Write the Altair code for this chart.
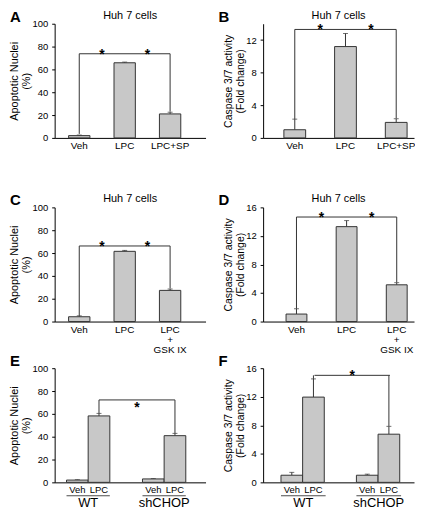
import altair as alt
import pandas as pd

FONT = "Liberation Sans"
BAR_FILL = "#c8c8c8"
EDGE = "#333333"

# ---------------- data ----------------
a_cats = ["Veh", "LPC", "LPC+SP"]
a_vals = [2.0, 65.8, 21.0]
a_err = [0.5, 0.6, 1.5]
a_bracket = 73.7
a_feet = [3.5, 23.0]

b_cats = ["Veh", "LPC", "LPC+SP"]
b_vals = [1.0, 11.2, 1.9]
b_err = [1.3, 1.6, 0.45]
b_bracket = 13.3
b_feet = [2.3, 2.4]

c_cats = ["Veh", "LPC", "LPC + GSK IX"]
c_vals = [4.2, 61.5, 27.3]
c_err = [0.8, 0.8, 1.2]
c_bracket = 66.2
c_feet = [5.0, 29.0]

d_cats = ["Veh", "LPC", "LPC + GSK IX"]
d_vals = [1.05, 13.3, 5.15]
d_err = [0.75, 0.85, 0.3]
d_bracket = 14.65
d_feet = [1.8, 5.5]

ef_groups = ["WT", "WT", "shCHOP", "shCHOP"]
ef_treat = ["Veh", "LPC", "Veh", "LPC"]
e_vals = [2.0, 58.2, 3.0, 40.9]
e_err = [0.3, 2.2, 0.3, 2.0]
e_bracket = 72.2
e_feet = [60.5, 43.0]

f_vals = [1.0, 11.95, 1.0, 6.75]
f_err = [0.4, 2.55, 0.15, 1.1]
f_bracket = 15.0
f_feet = [14.5, 7.9]

pct_ticks = [0, 20, 40, 60, 80, 100]
b_ticks = [0, 4, 8, 12]
fold_ticks = [0, 4, 8, 12, 16]

TITLE_APOP = ["Apoptotic Nuclei", "(%)"]
TITLE_CASP = ["Caspase 3/7 activity", "(Fold change)"]
CELL_TITLE = "Huh 7 cells"

W = 152
H = 115
GSK_EXPR = "datum.label == 'LPC + GSK IX' ? ['LPC', '+', 'GSK IX'] : datum.label"


def y_axis(title, values, tsize):
    return alt.Axis(title=title, values=values, tickSize=3, labelFontSize=9.5,
                    labelPadding=4, titleFontSize=tsize, titlePadding=0,
                    titleLineHeight=tsize + 2)


def letter_layer(letter):
    return alt.Chart(pd.DataFrame({"t": [letter]})).mark_text(
        align="left", baseline="top", fontSize=15, fontWeight="bold", color="black"
    ).encode(text="t:N", x=alt.value(-45), y=alt.value(-14))


def title_layer():
    return alt.Chart(pd.DataFrame({"t": [CELL_TITLE]})).mark_text(
        align="center", baseline="bottom", fontSize=11, color="black"
    ).encode(text="t:N", x=alt.value(W / 2), y=alt.value(-3))


def simple_panel(letter, cats, vals, errs, level, feet, ytitle, tsize, ydom, yvals,
                 pi, po, al, ast_dy, label_expr=None):
    step = W / (len(cats) - pi + 2 * po)
    xs = alt.Scale(domain=cats, paddingInner=pi, paddingOuter=po, align=al)
    ys = alt.Scale(domain=ydom, nice=False, zero=True)
    ax_kw = dict(title=None, labelAngle=0, ticks=False, labelFontSize=10,
                 labelPadding=3, labelLineHeight=10)
    if label_expr:
        ax_kw["labelExpr"] = label_expr
    X = alt.X("cat:N", scale=xs, axis=alt.Axis(**ax_kw))
    Y = alt.Y("v:Q", scale=ys, axis=y_axis(ytitle, yvals, tsize))

    df = pd.DataFrame({"cat": cats, "v": vals,
                       "v2": [v + e for v, e in zip(vals, errs)]})
    cap_df = pd.DataFrame({"cat": cats, "v": [v + e for v, e in zip(vals, errs)]})
    h_df = pd.DataFrame({"cat": [cats[0]], "cat2": [cats[2]], "v": [level]})
    v_df = pd.DataFrame({"cat": [cats[0], cats[2]], "v": [level, level], "v2": feet})
    a_df = pd.DataFrame({"cat": cats[:2], "v": [level, level], "s": ["*", "*"]})

    bars = alt.Chart(df).mark_bar(fill=BAR_FILL, stroke=EDGE, strokeWidth=1).encode(x=X, y=Y)
    err = alt.Chart(df).mark_rule(color=EDGE, strokeWidth=1).encode(x=X, y=Y, y2="v2:Q")
    cap = alt.Chart(cap_df).mark_tick(color=EDGE, thickness=1, size=5, orient="horizontal").encode(x=X, y=Y)
    hline = alt.Chart(h_df).mark_rule(color=EDGE, strokeWidth=1).encode(x=X, x2="cat2:N", y=Y)
    vlines = alt.Chart(v_df).mark_rule(color=EDGE, strokeWidth=1).encode(x=X, y=Y, y2="v2:Q")
    ast = alt.Chart(a_df).mark_text(dx=step / 2, dy=ast_dy, fontSize=14, fontWeight="bold",
                                    baseline="alphabetic", color="black").encode(x=X, y=Y, text="s:N")
    return alt.layer(err, cap, hline, vlines, bars, ast, title_layer(), letter_layer(letter)).properties(
        width=W, height=H)


def group_panel(letter, vals, errs, level, feet, ytitle, tsize, ydom, yvals,
                pi, po, al, ast_dy):
    step = W / (2 - pi + 2 * po)
    bw = step * (1 - pi)
    xs = alt.Scale(domain=["WT", "shCHOP"], paddingInner=pi, paddingOuter=po, align=al)
    ys = alt.Scale(domain=ydom, nice=False, zero=True)
    X = alt.X("grp:N", scale=xs, axis=alt.Axis(title=None, labelAngle=0, ticks=False,
                                               labelFontSize=13, labelPadding=14))
    XO = alt.XOffset("trt:N", scale=alt.Scale(domain=["Veh", "LPC"], paddingInner=0, paddingOuter=0))
    Y = alt.Y("v:Q", scale=ys, axis=y_axis(ytitle, yvals, tsize))

    hi = [v + e for v, e in zip(vals, errs)]
    df = pd.DataFrame({"grp": ef_groups, "trt": ef_treat, "v": vals, "v2": hi})
    cap_df = pd.DataFrame({"grp": ef_groups, "trt": ef_treat, "v": hi})
    lab_df = pd.DataFrame({"grp": ef_groups, "trt": ef_treat})
    und_df = pd.DataFrame({"grp": ["WT", "shCHOP"]})
    v_df = pd.DataFrame({"grp": ["WT", "shCHOP"], "trt": ["LPC", "LPC"],
                         "v": [level, level], "v2": feet})
    h_df = pd.DataFrame({"grp": ["WT"], "grp2": ["shCHOP"], "v": [level]})
    a_df = pd.DataFrame({"grp": ["WT"], "v": [level], "s": ["*"]})

    bars = alt.Chart(df).mark_bar(fill=BAR_FILL, stroke=EDGE, strokeWidth=1).encode(x=X, xOffset=XO, y=Y)
    err = alt.Chart(df).mark_rule(color=EDGE, strokeWidth=1).encode(x=X, xOffset=XO, y=Y, y2="v2:Q")
    cap = alt.Chart(cap_df).mark_tick(color=EDGE, thickness=1, size=5, orient="horizontal").encode(
        x=X, xOffset=XO, y=Y)
    labs = alt.Chart(lab_df).mark_text(baseline="top", fontSize=9.5, color="black").encode(
        x=X, xOffset=XO, y=alt.value(H + 3), text="trt:N")
    under = alt.Chart(und_df).mark_tick(color="black", thickness=1, size=bw, orient="horizontal").encode(
        x=X, y=alt.value(H + 13.5))
    vlines = alt.Chart(v_df).mark_rule(color=EDGE, strokeWidth=1).encode(x=X, xOffset=XO, y=Y, y2="v2:Q")
    hline = alt.Chart(h_df).mark_rule(color=EDGE, strokeWidth=1, xOffset=bw / 4, x2Offset=bw / 4).encode(
        x=X, x2="grp2:N", y=Y)
    ast = alt.Chart(a_df).mark_text(dx=step / 2 + bw / 4, dy=ast_dy, fontSize=14, fontWeight="bold",
                                    baseline="alphabetic", color="black").encode(x=X, y=Y, text="s:N")
    return alt.layer(err, cap, vlines, hline, bars, labs, under, ast, letter_layer(letter)).properties(
        width=W, height=H)


def spacer(h):
    return alt.Chart(pd.DataFrame({"z": [0]})).mark_point(opacity=0).encode(
        x=alt.value(0), y=alt.value(0)).properties(width=1, height=h)


A = simple_panel("A", a_cats, a_vals, a_err, a_bracket, a_feet, TITLE_APOP, 11, [0, 100], pct_ticks,
                 0.53, 0.426, 0.36, 5)
B = simple_panel("B", b_cats, b_vals, b_err, b_bracket, b_feet, TITLE_CASP, 10.5, [0, 14], b_ticks,
                 0.571, 0.273, 0.75, 5)
C = simple_panel("C", c_cats, c_vals, c_err, c_bracket, c_feet, TITLE_APOP, 11, [0, 100], pct_ticks,
                 0.53, 0.426, 0.36, 5, GSK_EXPR)
D = simple_panel("D", d_cats, d_vals, d_err, d_bracket, d_feet, TITLE_CASP, 10.5, [0, 16], fold_ticks,
                 0.584, 0.297, 0.77, 5, GSK_EXPR)
E = group_panel("E", e_vals, e_err, e_bracket, e_feet, TITLE_APOP, 11, [0, 100], pct_ticks,
                0.43, 0.208, 0.375, 12)
F = group_panel("F", f_vals, f_err, f_bracket, f_feet, TITLE_CASP, 10.5, [0, 16], fold_ticks,
                0.408, 0.204, 0.58, 5)

chart = alt.concat(
    A, B, spacer(26), spacer(26), C, D, spacer(3), spacer(3), E, F,
    columns=2,
    spacing=alt.RowColnumber(row=22, column=58),
    bounds="flush",
).properties(padding=0).configure(font=FONT).configure_view(strokeWidth=0).configure_axis(
    domainColor="black", tickColor="black", labelColor="black", titleColor="black",
    grid=False, titleFontWeight="normal", labelFont=FONT, titleFont=FONT
)

chart.save("out.html", embed_options={"renderer": "svg", "actions": False})
